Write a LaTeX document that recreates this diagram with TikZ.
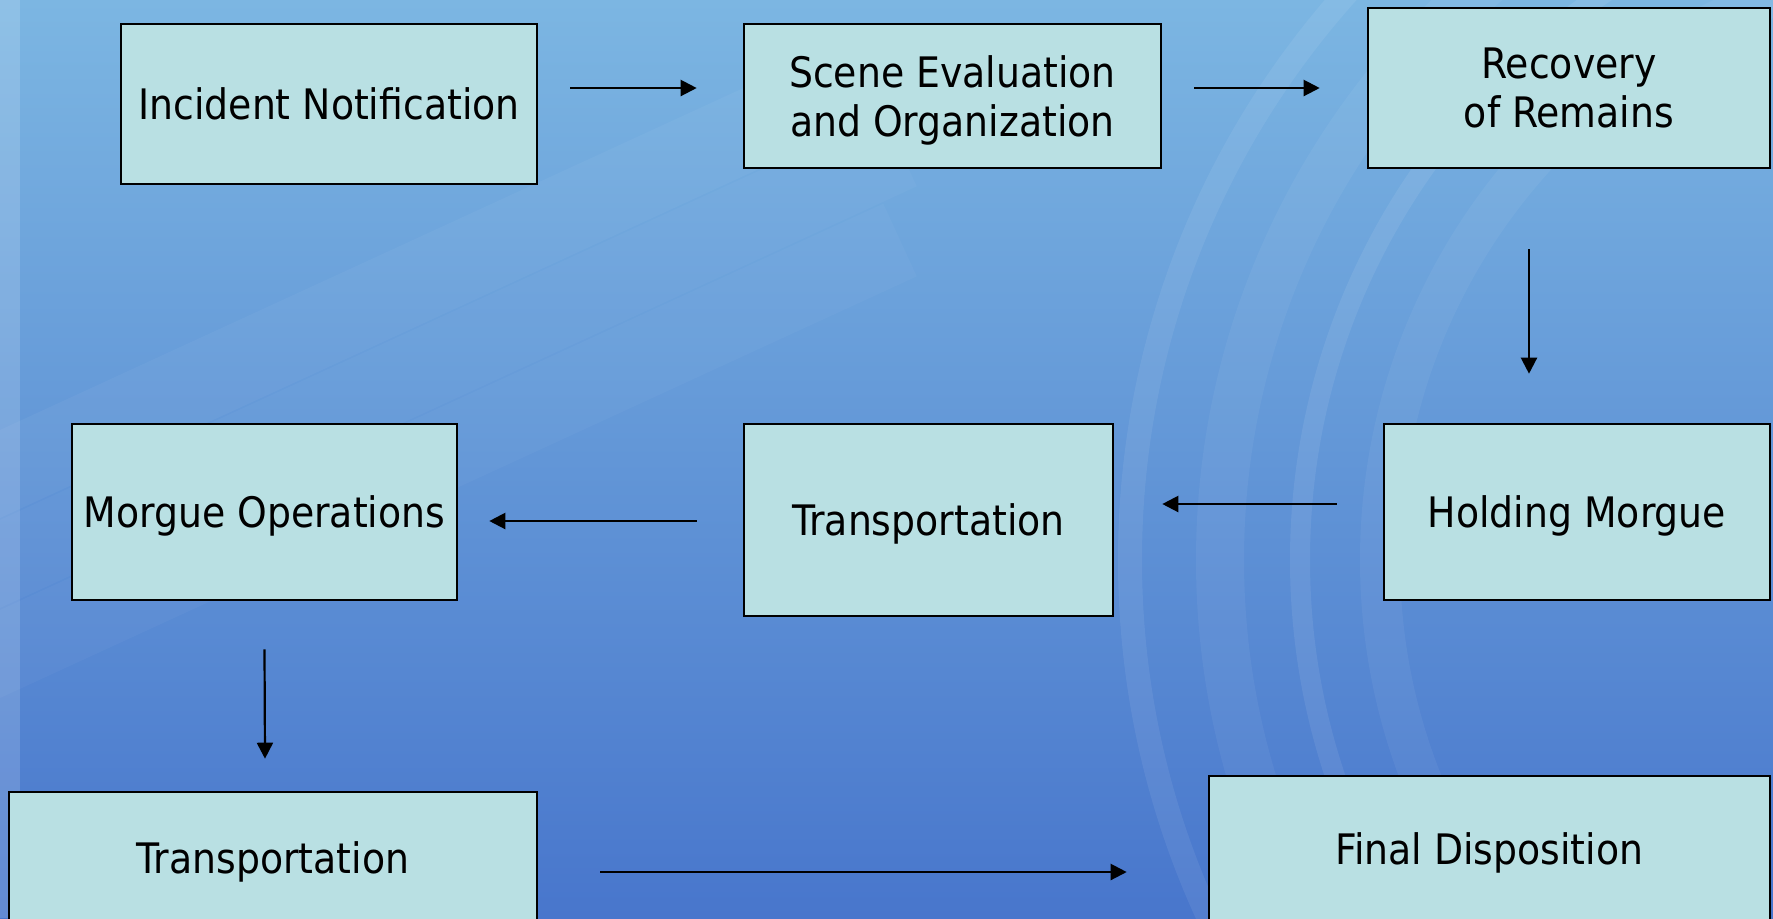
\documentclass[tikz,border=0pt]{standalone}
\usepackage{fontspec}
\setmainfont{DejaVu Sans Condensed}
\usepackage{tikz}
\usetikzlibrary{arrows.meta}

\definecolor{boxfill}{RGB}{185,224,227}
\definecolor{bgtop}{RGB}{124,182,226}
\definecolor{bgmid}{RGB}{90,146,214}
\definecolor{bgbot}{RGB}{72,118,204}

\tikzset{
  stage/.style={draw=black,line width=1.3pt,fill=boxfill,align=center,
    inner sep=0pt,text depth=0pt,font=\fontsize{21}{24.5}\selectfont},
  flow/.style={-{Triangle[length=8pt,width=8pt]},line width=1.1pt},
}

\begin{document}
\begin{tikzpicture}[x=0.5pt,y=-0.5pt]
    \clip (0,0) rectangle (1773,918);
    \shade[top color=bgtop,middle color=bgmid,bottom color=bgbot]
        (0,0) rectangle (1773,918);
    \fill[white,opacity=0.15] (0,0) rectangle (20,918);
    \foreach \r/\o/\w in {600/0.05/20,680/0.08/10,760/0.05/24,850/0.07/12}
        \draw[white,opacity=\o,line width=\w pt] (1980,560) circle (\r);
    \foreach \d/\o in {0/0.04,90/0.03,180/0.03}
        \draw[white,opacity=\o,line width=40pt]
            (-100,520+\d) -- (900,60+\d);

    \node[stage,minimum width=208pt,minimum height=80pt] (inc)
        at (329,104) {Incident Notification};
    \node[stage,minimum width=208.5pt,minimum height=72pt] (scene)
        at (952.5,96) {Scene Evaluation\\and Organization};
    \node[stage,minimum width=201pt,minimum height=80pt] (recov)
        at (1569,88) {Recovery\\of Remains};
    \node[stage,minimum width=193pt,minimum height=88pt] (hold)
        at (1577,512) {Holding Morgue};
    \node[stage,minimum width=184.5pt,minimum height=96pt] (transA)
        at (928.5,520) {Transportation};
    \node[stage,minimum width=192.5pt,minimum height=88pt] (morgue)
        at (264.5,512) {Morgue Operations};
    \node[stage,minimum width=264pt,minimum height=66pt] (transB)
        at (273,858) {Transportation};
    \node[stage,minimum width=280.5pt,minimum height=73pt] (final)
        at (1489.5,849) {Final Disposition};

    \draw[flow] ([shift={(32,-16)}]inc.east) -- ([shift={(-46,-8)}]scene.west);
    \draw[flow] ([shift={(32,-8)}]scene.east) -- ([shift={(-47,0)}]recov.west);
    \draw[flow] ([shift={(-40,80)}]recov.south) -- ([shift={(-48,-49)}]hold.north);
    \draw[flow] ([shift={(-46,-8)}]hold.west) -- ([shift={(48,-16)}]transA.east);
    \draw[flow] ([shift={(-46,1)}]transA.west) -- ([shift={(31,9)}]morgue.east);
    \draw[flow] ([shift={(0,48)}]morgue.south) -- ([shift={(-8,-32)}]transB.north);
    \draw[flow] ([shift={(62,14)}]transB.east) -- ([shift={(-81,23)}]final.west);
\end{tikzpicture}
\end{document}
